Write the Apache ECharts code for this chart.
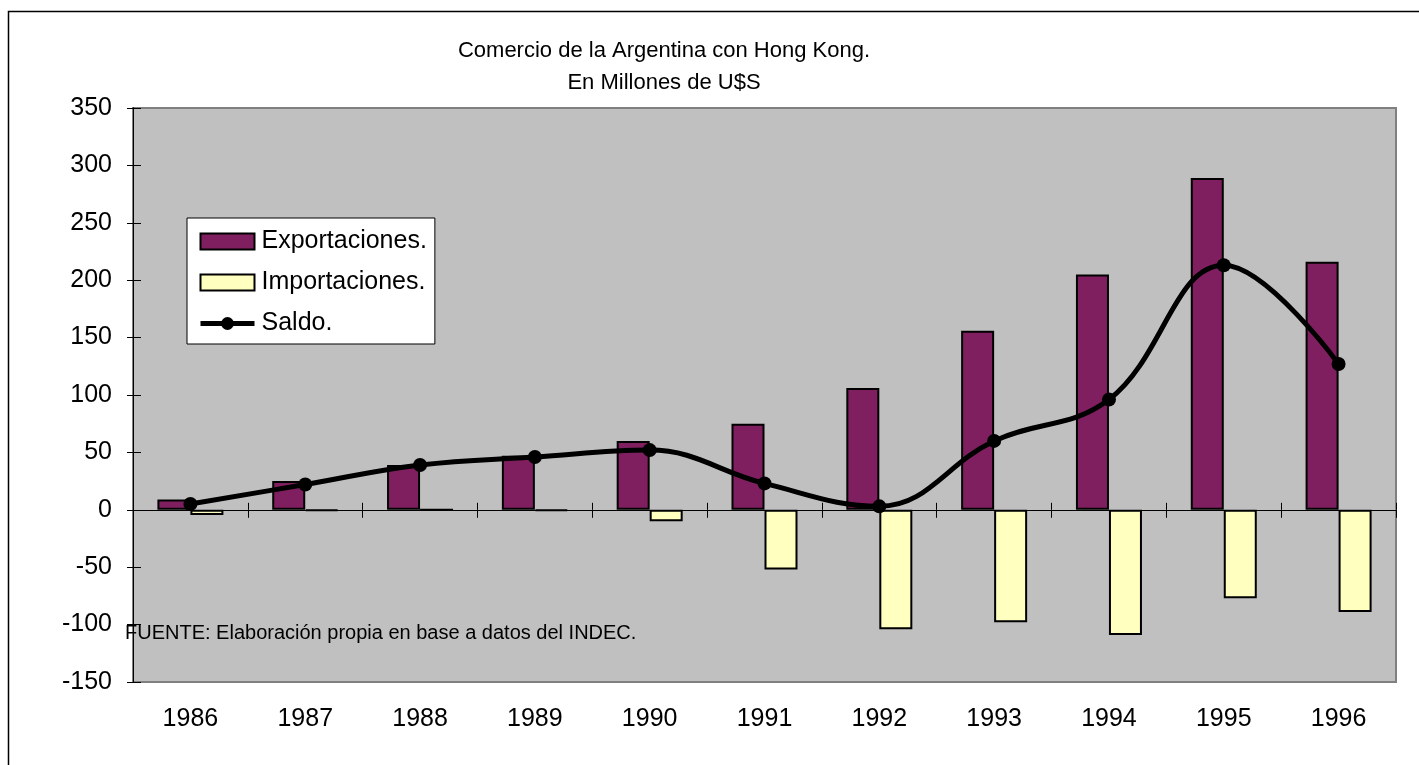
<!DOCTYPE html>
<html>
<head>
<meta charset="utf-8">
<script src="https://cdn.jsdelivr.net/npm/echarts@6/dist/echarts.min.js"></script>
<style>
  html, body { margin: 0; padding: 0; background: #fff; }
  #chart { width: 1419px; height: 765px; }
</style>
</head>
<body>
<div id="chart"></div>
<script>
// datos
const years = ['1986', '1987', '1988', '1989', '1990', '1991', '1992', '1993', '1994', '1995', '1996']
const exportaciones = [9, 25, 39, 47, 60, 75, 106, 156, 205, 289, 216]
const importaciones = [-4.5, -1, 0, -1, -10, -52, -104, -98, -109, -77, -89]
const saldo = [5, 22, 39, 46, 52, 23, 3, 60, 96, 213, 127]
const yTicks = [-150, -100, -50, 0, 50, 100, 150, 200, 250, 300, 350]

const font = '"Liberation Sans", Arial, sans-serif'
const gridTop = 108
const gridLeft = 133
const gridW = 1263
const gridH = 574
const yMin = yTicks[0]
const yMax = yTicks[yTicks.length - 1]
// distancia del borde superior hasta el cero
const zeroOffset = gridH * yMax / (yMax - yMin)

const myChart = echarts.init(document.getElementById('chart'))

const option = {
  backgroundColor: '#ffffff',
  animation: false,
  title: {
    text: 'Comercio de la Argentina con Hong Kong.\nEn Millones de U$S',
    left: 659,
    top: 30,
    textAlign: 'center',
    textStyle: { fontFamily: font, fontSize: 22, fontWeight: 'normal', color: '#000', lineHeight: 32 }
  },
  legend: {
    orient: 'vertical',
    left: 187,
    top: 218,
    padding: [11, 8, 8, 11],
    itemGap: 16,
    itemWidth: 54,
    itemHeight: 16,
    backgroundColor: '#ffffff',
    borderColor: '#000',
    borderWidth: 1,
    borderRadius: 0,
    textStyle: { fontFamily: font, fontSize: 25, color: '#000', padding: [0, 0, 0, 2] },
    data: [
      { name: 'Exportaciones.', icon: 'rect' },
      { name: 'Importaciones.', icon: 'rect' },
      { name: 'Saldo.', lineStyle: { width: 5, color: '#000' } }
    ]
  },
  grid: {
    left: gridLeft,
    top: gridTop,
    width: gridW,
    height: gridH,
    show: true,
    backgroundColor: '#c0c0c0',
    borderColor: '#808080',
    borderWidth: 2
  },
  xAxis: [
    {
      // etiquetas abajo
      type: 'category',
      data: years,
      position: 'bottom',
      axisLine: { show: false, onZero: false },
      axisTick: { show: false },
      axisLabel: { fontFamily: font, fontSize: 25, color: '#000', margin: 25 }
    },
    {
      // línea del cero con marcas hacia abajo
      type: 'category',
      data: years,
      position: 'bottom',
      axisLine: { onZero: true, lineStyle: { color: '#000', width: 1 } },
      axisTick: { show: true, length: 8, lineStyle: { color: '#000' } },
      axisLabel: { show: false }
    },
    {
      // marcas hacia arriba sobre el cero
      type: 'category',
      data: years,
      position: 'top',
      offset: -zeroOffset,
      axisLine: { show: true, onZero: false, lineStyle: { color: '#000', width: 1 } },
      axisTick: { show: true, length: 7, lineStyle: { color: '#000' } },
      axisLabel: { show: false }
    }
  ],
  yAxis: [
    {
      type: 'value',
      min: yMin,
      max: yMax,
      interval: 50,
      axisLine: { show: true, lineStyle: { color: '#000' } },
      axisTick: { show: true, length: 6, lineStyle: { color: '#000' } },
      splitLine: { show: false },
      axisLabel: { fontFamily: font, fontSize: 25, color: '#000', margin: 21 }
    },
    {
      // marcas hacia la derecha sobre el eje izquierdo
      type: 'value',
      min: yMin,
      max: yMax,
      interval: 50,
      position: 'right',
      offset: -gridW,
      axisLine: { show: true, lineStyle: { color: '#000' } },
      axisTick: { show: true, length: 8, lineStyle: { color: '#000' } },
      splitLine: { show: false },
      axisLabel: { show: false }
    }
  ],
  series: [
    {
      name: 'Exportaciones.',
      type: 'bar',
      data: exportaciones,
      barWidth: 33,
      barGap: '0%',
      itemStyle: { color: '#801f5f', borderColor: '#000', borderWidth: 2 }
    },
    {
      name: 'Importaciones.',
      type: 'bar',
      data: importaciones,
      barWidth: 33,
      barGap: '0%',
      itemStyle: { color: '#ffffc0', borderColor: '#000', borderWidth: 2 }
    },
    {
      name: 'Saldo.',
      type: 'line',
      data: saldo,
      smooth: 0.4,
      symbol: 'circle',
      symbolSize: 14,
      z: 5,
      lineStyle: { color: '#000', width: 5 },
      itemStyle: { color: '#000' }
    }
  ],
  graphic: [
    {
      type: 'rect',
      shape: { x: 8.5, y: 11.5, width: 1430, height: 780 },
      style: { fill: 'none', stroke: '#000', lineWidth: 1.5 },
      z: -10,
      silent: true
    },
    {
      type: 'text',
      left: 125,
      top: 623,
      z: 100,
      style: {
        text: 'FUENTE: Elaboración propia en base a datos del INDEC.',
        fontFamily: font,
        fontSize: 20,
        fill: '#000'
      }
    }
  ]
}

myChart.setOption(option)
</script>
</body>
</html>
